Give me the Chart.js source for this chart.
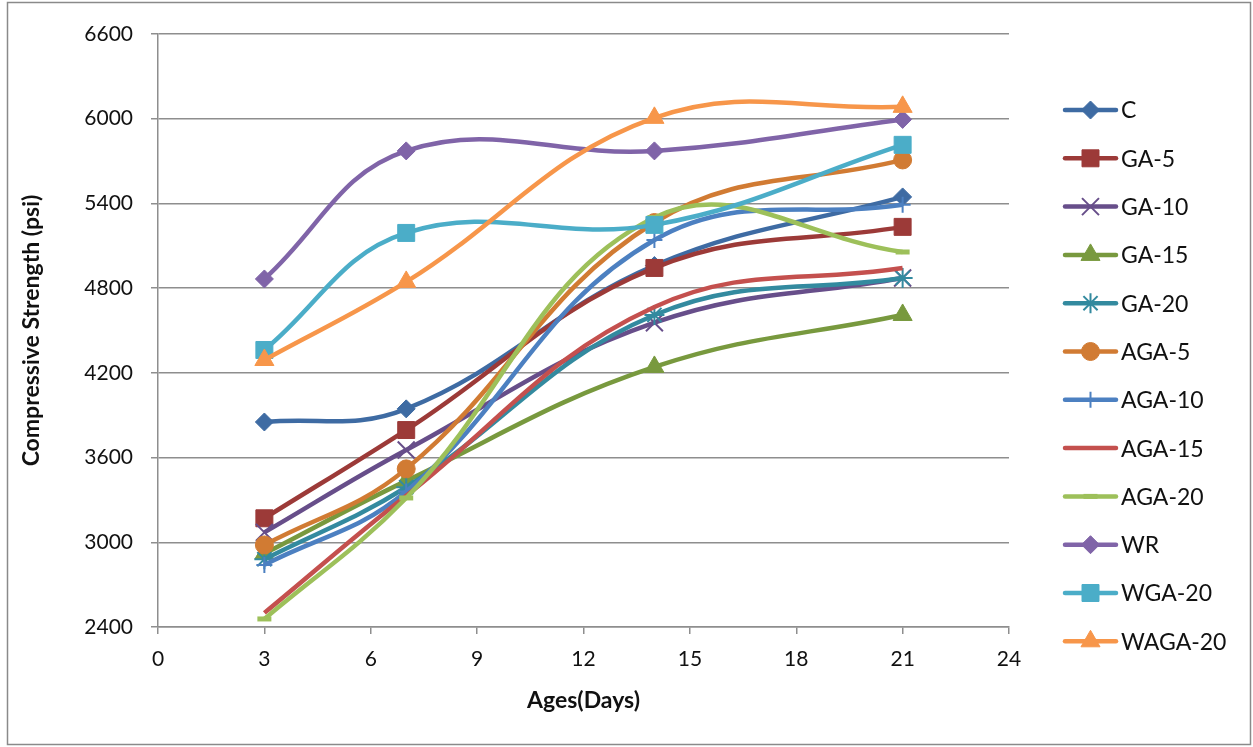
<!DOCTYPE html>
<html>
<head>
<meta charset="utf-8">
<script src="https://cdn.jsdelivr.net/npm/chart.js@4/dist/chart.umd.min.js"></script>
<style>
  html, body { margin: 0; padding: 0; background: #fff; }
  #wrap { position: relative; width: 1253px; height: 747px; }
</style>
</head>
<body>
<div id="wrap"><canvas id="c" width="1253" height="747"></canvas></div>
<script>
// ---- Data ----
const ages = [3, 7, 14, 21];
const xTicks = [0, 3, 6, 9, 12, 15, 18, 21, 24];
const yTicks = [2400, 3000, 3600, 4200, 4800, 5400, 6000, 6600];
const seriesNames = ['C', 'GA-5', 'GA-10', 'GA-15', 'GA-20', 'AGA-5', 'AGA-10', 'AGA-15', 'AGA-20', 'WR', 'WGA-20', 'WAGA-20'];
const C       = [3852, 3945, 4960, 5446];
const GA5     = [3170, 3795, 4943, 5234];
const GA10    = [3070, 3654, 4555, 4872];
const GA15    = [2920, 3435, 4242, 4610];
const GA20    = [2880, 3390, 4610, 4872];
const AGA5    = [2981, 3520, 5265, 5708];
const AGA10   = [2840, 3360, 5141, 5390];
const AGA15   = [2500, 3330, 4667, 4943];
const AGA20   = [2457, 3314, 5300, 5056];
const WR      = [4865, 5772, 5772, 5995];
const WGA20   = [4362, 5191, 5248, 5815];
const WAGA20  = [4291, 4844, 6006, 6084];
const seriesValues = [C, GA5, GA10, GA15, GA20, AGA5, AGA10, AGA15, AGA20, WR, WGA20, WAGA20];

// ---- Styles ----
const colors = ['#3E6BA3', '#9C3A38', '#674E8A', '#78993E', '#338A9F', '#D17B33',
                '#4C80C1', '#C4504E', '#9DC05A', '#8064A8', '#4BADC8', '#F7964A'];
const styles = [
  {ps: 'rectRot', r: 9, bw: 1},
  {ps: 'rect', r: 12, bw: 1},
  {ps: 'crossRot', r: 12, bw: 2},
  {ps: 'triangle', r: 11, bw: 1},
  {ps: 'star', r: 10, bw: 2},
  {ps: 'circle', r: 9, bw: 1},
  {ps: 'cross', r: 8, bw: 2},
  {ps: false, r: 0, bw: 0},
  {ps: 'line', r: 7, bw: 5},
  {ps: 'rectRot', r: 9, bw: 1},
  {ps: 'rect', r: 12, bw: 1},
  {ps: 'triangle', r: 11, bw: 1}
];

const datasets = seriesNames.map((name, i) => ({
  label: name,
  data: ages.map((a, j) => ({x: a, y: seriesValues[i][j]})),
  borderColor: colors[i],
  backgroundColor: colors[i],
  borderWidth: 4.5,
  tension: 0.4,
  pointStyle: styles[i].ps,
  pointRadius: styles[i].r,
  pointHoverRadius: styles[i].r,
  pointBorderWidth: styles[i].bw,
  pointBorderColor: colors[i],
  pointBackgroundColor: colors[i],
  order: seriesNames.length - i,
  clip: false
}));

const FONT = 'Lato, "Open Sans", sans-serif';
const GRID = '#8e8e8e';

const framePlugin = {
  id: 'frame',
  beforeDraw(chart) {
    const ctx = chart.ctx;
    ctx.save();
    ctx.fillStyle = '#fff';
    ctx.fillRect(0, 0, chart.width, chart.height);
    ctx.strokeStyle = '#8a8a8a';
    ctx.lineWidth = 1.5;
    ctx.strokeRect(7.5, 2.5, 1243, 742);
    ctx.restore();
  },
  afterDraw(chart) {
    const ctx = chart.ctx;
    ctx.save();
    chart.data.datasets.forEach((ds, i) => {
      const y = 110 + i * 48.3;
      ctx.strokeStyle = ds.borderColor;
      ctx.lineWidth = 4.5;
      ctx.lineCap = 'round';
      ctx.beginPath();
      ctx.moveTo(1065, y);
      ctx.lineTo(1116, y);
      ctx.stroke();
      if (ds.pointStyle) {
        ctx.fillStyle = ds.pointBackgroundColor;
        ctx.strokeStyle = ds.pointBorderColor;
        ctx.lineWidth = ds.pointBorderWidth;
        ctx.lineCap = 'butt';
        Chart.helpers.drawPoint(ctx, {pointStyle: ds.pointStyle, radius: ds.pointRadius, borderWidth: ds.pointBorderWidth, rotation: 0}, 1090.5, y);
      }
      ctx.fillStyle = '#111';
      ctx.font = '23px ' + FONT;
      ctx.textBaseline = 'middle';
      ctx.textAlign = 'left';
      ctx.fillText(ds.label, 1121, y + 1);
    });
    ctx.restore();
  }
};

new Chart(document.getElementById('c'), {
  type: 'line',
  data: { datasets },
  plugins: [framePlugin],
  options: {
    responsive: false,
    animation: false,
    events: [],
    layout: { padding: { left: 0, right: 244, top: 34, bottom: 0 } },
    plugins: { legend: { display: false }, tooltip: { enabled: false } },
    scales: {
      x: {
        type: 'linear',
        min: 0, max: 24,
        afterBuildTicks(scale) { scale.ticks = xTicks.map(v => ({value: v})); },
        afterFit(scale) { scale.height = 120; },
        grid: { drawOnChartArea: false, drawTicks: true, tickLength: 7, color: GRID, lineWidth: 1.5 },
        border: { display: true, color: GRID, width: 1.5 },
        ticks: { color: '#111', font: { family: FONT, size: 21 }, padding: 13, maxRotation: 0, callback: v => String(v) },
        title: { display: true, text: 'Ages(Days)', color: '#111', font: { family: FONT, size: 23, weight: 'bold' }, padding: { bottom: 33 } }
      },
      y: {
        type: 'linear',
        min: 2400, max: 6600,
        afterBuildTicks(scale) { scale.ticks = yTicks.map(v => ({value: v})); },
        afterFit(scale) { scale.width = 158; },
        grid: { drawOnChartArea: true, drawTicks: true, tickLength: 7, color: GRID, lineWidth: 1.5 },
        border: { display: true, color: GRID, width: 1.5 },
        ticks: { color: '#111', font: { family: FONT, size: 21 }, padding: 18, callback: v => String(v) },
        title: { display: true, text: 'Compressive Strength (psi)', color: '#111', font: { family: FONT, size: 23, weight: 'bold' }, padding: { top: 18 } }
      }
    }
  }
});
</script>
</body>
</html>
